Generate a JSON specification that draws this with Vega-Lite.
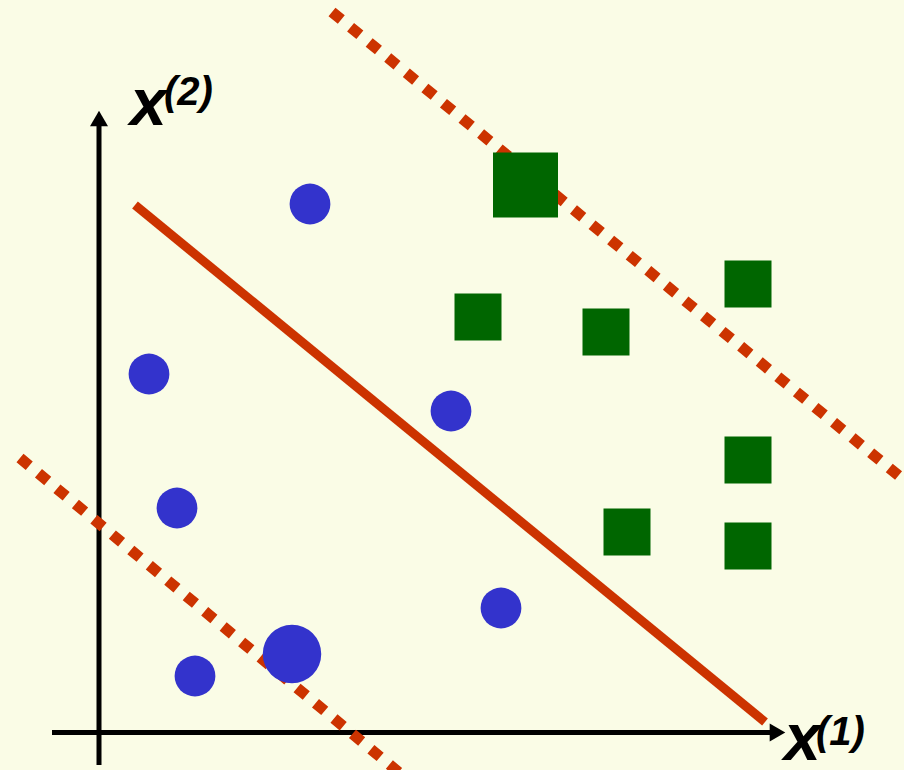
{
  "$schema": "https://vega.github.io/schema/vega-lite/v6.json",
  "width": 904,
  "height": 770,
  "padding": 0,
  "autosize": "none",
  "background": "#FAFCE6",
  "config": {"view": {"stroke": null}},
  "layer": [
    {
      "data": {"values": [
        {"axis": "y", "px": 99, "py": 765},
        {"axis": "y", "px": 99, "py": 120},
        {"axis": "x", "px": 52, "py": 732.5},
        {"axis": "x", "px": 776, "py": 732.5}
      ]},
      "mark": {"type": "line", "color": "#000000", "strokeWidth": 5, "strokeCap": "butt"},
      "encoding": {
        "x": {"field": "px", "type": "quantitative", "scale": {"domain": [0, 904], "nice": false, "zero": false}, "axis": null},
        "y": {"field": "py", "type": "quantitative", "scale": {"domain": [0, 770], "reverse": true, "nice": false, "zero": false}, "axis": null},
        "detail": {"field": "axis"}
      }
    },
    {
      "data": {"values": [
        {"dir": "up", "px": 99, "py": 118.5},
        {"dir": "right", "px": 777.5, "py": 732.5}
      ]},
      "mark": {"type": "point", "filled": true, "color": "#000000", "opacity": 1, "size": 324},
      "encoding": {
        "x": {"field": "px", "type": "quantitative"},
        "y": {"field": "py", "type": "quantitative"},
        "shape": {"field": "dir", "type": "nominal", "scale": {"domain": ["up", "right"], "range": ["triangle-up", "triangle-right"]}, "legend": null}
      }
    },
    {
      "data": {"values": [
        {"id": "top", "px": 332, "py": 12},
        {"id": "top", "px": 904, "py": 480},
        {"id": "bottom", "px": 20, "py": 458},
        {"id": "bottom", "px": 402, "py": 775}
      ]},
      "mark": {"type": "line", "color": "#CC3300", "strokeWidth": 11, "strokeDash": [12, 12], "strokeCap": "butt", "clip": true},
      "encoding": {
        "x": {"field": "px", "type": "quantitative"},
        "y": {"field": "py", "type": "quantitative"},
        "detail": {"field": "id"}
      }
    },
    {
      "data": {"values": [
        {"px": 135, "py": 205},
        {"px": 765, "py": 722}
      ]},
      "mark": {"type": "line", "color": "#CC3300", "strokeWidth": 9, "strokeCap": "butt"},
      "encoding": {
        "x": {"field": "px", "type": "quantitative"},
        "y": {"field": "py", "type": "quantitative"}
      }
    },
    {
      "data": {"values": [
        {"px": 310, "py": 204, "s": 1662},
        {"px": 149, "py": 374, "s": 1662},
        {"px": 451, "py": 411, "s": 1662},
        {"px": 177, "py": 508, "s": 1662},
        {"px": 501, "py": 608, "s": 1662},
        {"px": 195, "py": 676, "s": 1662},
        {"px": 292, "py": 654, "s": 3421}
      ]},
      "mark": {"type": "circle", "color": "#3333CC", "opacity": 1},
      "encoding": {
        "x": {"field": "px", "type": "quantitative"},
        "y": {"field": "py", "type": "quantitative"},
        "size": {"field": "s", "type": "quantitative", "scale": {"domain": [0, 10000], "range": [0, 10000], "zero": true}, "legend": null}
      }
    },
    {
      "data": {"values": [
        {"px": 525.5, "py": 185, "s": 4225},
        {"px": 478, "py": 317, "s": 2209},
        {"px": 606, "py": 332, "s": 2209},
        {"px": 748, "py": 284, "s": 2209},
        {"px": 748, "py": 460, "s": 2209},
        {"px": 627, "py": 532, "s": 2209},
        {"px": 748, "py": 546, "s": 2209}
      ]},
      "mark": {"type": "square", "color": "#006600", "opacity": 1},
      "encoding": {
        "x": {"field": "px", "type": "quantitative"},
        "y": {"field": "py", "type": "quantitative"},
        "size": {"field": "s", "type": "quantitative", "scale": {"domain": [0, 10000], "range": [0, 10000], "zero": true}, "legend": null}
      }
    },
    {
      "data": {"values": [
        {"t": "x", "px": 130, "py": 125, "fs": 66},
        {"t": "(2)", "px": 164, "py": 105, "fs": 40},
        {"t": "x", "px": 784, "py": 760, "fs": 66},
        {"t": "(1)", "px": 816, "py": 745, "fs": 40}
      ]},
      "mark": {"type": "text", "font": "Liberation Sans", "fontWeight": "bold", "fontStyle": "italic", "align": "left", "baseline": "alphabetic", "color": "#000000"},
      "encoding": {
        "x": {"field": "px", "type": "quantitative"},
        "y": {"field": "py", "type": "quantitative"},
        "text": {"field": "t"},
        "size": {"field": "fs", "type": "quantitative", "scale": {"domain": [0, 100], "range": [0, 100], "zero": true}, "legend": null}
      }
    }
  ],
  "resolve": {"scale": {"size": "independent"}}
}
